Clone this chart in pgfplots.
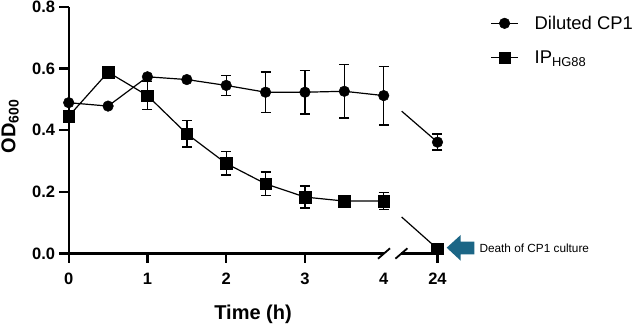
\documentclass[border=0pt]{standalone}
\usepackage{fontspec}
\setmainfont{Liberation Sans}
\usepackage{pgfplots}
\pgfplotsset{compat=1.18}
\usetikzlibrary{calc}
\definecolor{arrowteal}{RGB}{28,102,134}

\begin{document}
\begin{tikzpicture}
\begin{axis}[
  anchor=origin, at={(0,0)},
  x=78.75pt, y=308.4pt,
  xmin=0, xmax=4.683, ymin=0, ymax=0.8,
  clip=false,
  axis x line=bottom, axis y line=left,
  axis line style={line width=2.2pt, -},
  tick align=outside,
  major tick length=10pt,
  xtick={0,1,2,3,4.683},
  xticklabels={0,1,2,3,24},
  ytick={0,0.2,0.4,0.6,0.8},
  /pgf/number format/assume math mode=true,
  yticklabel style={/pgf/number format/fixed, /pgf/number format/fixed zerofill, /pgf/number format/precision=1},
  tick label style={font=\fontsize{16.5}{18}\selectfont\bfseries},
  xticklabel shift=6pt,
  xlabel={Time (h)},
  ylabel={OD\textsubscript{600}},
  label style={font=\fontsize{20}{24}\selectfont\bfseries},
  xlabel style={at={(axis description cs:0.5,-0.245)}, anchor=center},
  ylabel style={at={(axis description cs:-0.159,0.515)}, anchor=center},
  legend style={draw=none, fill=none, at={(axis description cs:1.135,0.98)}, anchor=north west,
    font=\fontsize{18.4}{22}\selectfont, row sep=16pt, column sep=14pt},
  legend cell align=left,
  legend image code/.code={\draw[mark repeat=2,mark phase=2,#1] plot coordinates {(0pt,0pt)(13.5pt,0pt)(27pt,0pt)};},
  every axis plot/.append style={line width=1.2pt, black},
]

% error bars of the diluted CP1 culture
\addplot[forget plot, only marks, mark=none,
  error bars/.cd, y dir=both, y explicit,
  error bar style={line width=1.4pt, black},
  error mark options={rotate=90, mark size=5pt, line width=1.4pt, black}]
  coordinates {
  (2,0.545) +- (0,0.033)
  (2.5,0.523) +- (0,0.065)
  (3,0.523) +- (0,0.071)
  (3.5,0.526) +- (0,0.087)
  (4,0.512) +- (0,0.095)
  (4.683,0.361) +- (0,0.026)
};
% error bars of IP_HG88
\addplot[forget plot, only marks, mark=none,
  error bars/.cd, y dir=both, y explicit,
  error bar style={line width=1.4pt, black},
  error mark options={rotate=90, mark size=5pt, line width=1.4pt, black}]
  coordinates {
  (1,0.512) +- (0,0.045)
  (1.5,0.388) +- (0,0.043)
  (2,0.292) +- (0,0.038)
  (2.5,0.226) +- (0,0.038)
  (3,0.183) +- (0,0.036)
  (4,0.170) +- (0,0.028)
};

% gap in the x axis between 4 h and 24 h
\fill[white] ($(axis cs:4.004,0)+(0,-3pt)$) rectangle ($(axis cs:4.225,0)+(0,3pt)$);

% segments across the axis break (4 h -> 24 h)
\addplot[forget plot, no marks, shorten <=23.8pt] coordinates {(4,0.512) (4.683,0.361)};
\addplot[forget plot, no marks, shorten <=24pt] coordinates {(4,0.170) (4.683,0.015)};

% Diluted CP1
\addplot[mark=*, mark size=5.3pt, mark options={solid, fill=black, line width=0.5pt}] coordinates {
  (0,0.489) (0.5,0.478) (1,0.573) (1.5,0.564) (2,0.545)
  (2.5,0.523) (3,0.523) (3.5,0.526) (4,0.512)
};
\addlegendentry{Diluted CP1}
\addplot[forget plot, only marks, mark=*, mark size=5.3pt, mark options={fill=black, line width=0.5pt}] coordinates {(4.683,0.361)};

% IP_HG88
\addplot[mark=square*, mark size=5.8pt, mark options={solid, fill=black, line width=0.5pt}] coordinates {
  (0,0.445) (0.5,0.588) (1,0.512) (1.5,0.388) (2,0.292)
  (2.5,0.226) (3,0.183) (3.5,0.170) (4,0.170)
};
\addlegendentry{IP\textsubscript{HG88}}
\addplot[forget plot, only marks, mark=square*, mark size=5.8pt, mark options={fill=black, line width=0.5pt}] coordinates {(4.683,0.015)};

% break marks
\draw[line width=1.8pt] (axis cs:4.004,0) ++(-6pt,-5.2pt) -- ++(12pt,10.4pt);
\draw[line width=1.8pt] (axis cs:4.225,0) ++(-6pt,-5.2pt) -- ++(12pt,10.4pt);
% label of the 4 h position, which has no tick at the break
\node[anchor=base, font=\fontsize{16.5}{18}\selectfont\bfseries] at (axis cs:4,0) [yshift=-30.7pt] {4};
\end{axis}

% tick marks (axis origin sits at (0,0); 1 h = 78.75pt, 0.2 OD = 61.68pt)
\foreach \tx in {0,78.75,157.5,236.25,368.8}
  \draw[line width=2.2pt] (\tx pt,0pt) -- (\tx pt,-10pt);
\foreach \ty in {0,61.68,123.36,185.04,246.72}
  \draw[line width=2.2pt] (0pt,\ty pt) -- (-10pt,\ty pt);

% annotation at 24 h
\fill[arrowteal] (378pt,5.8pt) -- (392pt,18.5pt) -- (392pt,11.8pt) -- (405.6pt,11.8pt)
  -- (405.6pt,-0.8pt) -- (392pt,-0.8pt) -- (392pt,-7.2pt) -- cycle;
\node[anchor=west, inner sep=0pt, font=\fontsize{11.8}{14}\selectfont] at (410.6pt,5.5pt) {Death of CP1 culture};

\pgfresetboundingbox
\path[use as bounding box] (-68.7pt,-72.5pt) rectangle (569.3pt,253.5pt);
\end{tikzpicture}
\end{document}
